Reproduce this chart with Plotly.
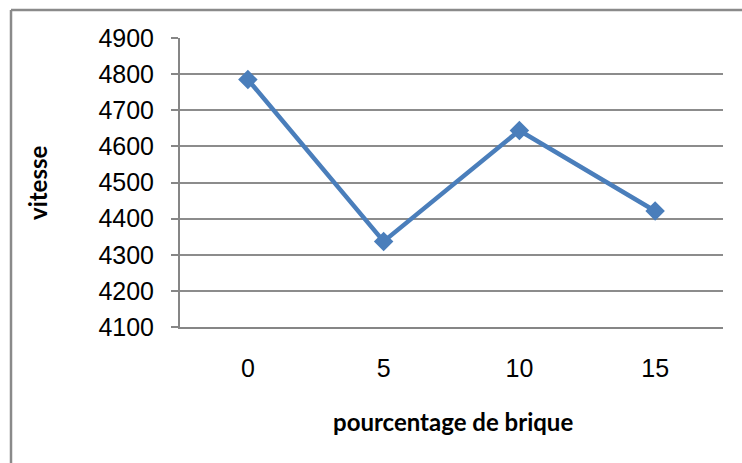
import plotly.graph_objects as go

# pourcentage de brique vs vitesse
pourcentage = ['0', '5', '10', '15']
vitesse = [4785, 4337, 4644, 4421]
y_ticks = [4100, 4200, 4300, 4400, 4500, 4600, 4700, 4800, 4900]

W, H = 742, 463
L, R, T, B = 180, 19, 38, 136
pw, ph = W - L - R, H - T - B


def px_x(x):
    return (x - L) / pw


def px_y(y):
    return (H - B - y) / ph


fig = go.Figure()
fig.add_trace(go.Scatter(
    x=pourcentage,
    y=vitesse,
    mode='lines+markers',
    line=dict(color='#4A7EBB', width=4.5),
    marker=dict(symbol='diamond', size=15, color='#4A7EBB'),
    cliponaxis=False,
))

fig.update_layout(
    width=W, height=H,
    margin=dict(l=L, r=R, t=T, b=B),
    paper_bgcolor='white',
    plot_bgcolor='white',
    showlegend=False,
    font=dict(family='Liberation Sans, Arial', color='black'),
    xaxis=dict(
        type='category',
        range=[-0.5, 3.5],
        showgrid=False,
        showline=True, linecolor='#868686', linewidth=2,
        ticks='',
        tickfont=dict(size=25),
        ticklabelstandoff=18,
    ),
    yaxis=dict(
        range=[4100, 4900],
        tickvals=y_ticks,
        showgrid=True, gridcolor='#8c8c8c', gridwidth=2,
        showline=True, linecolor='#868686', linewidth=2,
        ticks='outside', ticklen=7, tickcolor='#868686', tickwidth=2,
        tickfont=dict(size=25),
        ticklabelstandoff=12,
        zeroline=False,
    ),
    annotations=[
        dict(text='<b>vitesse</b>', xref='paper', yref='paper',
             x=px_x(37), y=px_y(183), xanchor='center', yanchor='middle',
             textangle=-90, showarrow=False,
             font=dict(family='Lato, Open Sans', size=24)),
        dict(text='<b>pourcentage de brique</b>', xref='paper', yref='paper',
             x=px_x(453), y=px_y(421), xanchor='center', yanchor='middle',
             showarrow=False,
             font=dict(family='Lato, Open Sans', size=24)),
    ],
    shapes=[
        dict(type='line', xref='paper', yref='paper',
             x0=px_x(11), x1=px_x(745), y0=px_y(10), y1=px_y(10),
             line=dict(color='#8a8a8a', width=2.5)),
        dict(type='line', xref='paper', yref='paper',
             x0=px_x(11), x1=px_x(11), y0=px_y(10), y1=px_y(466),
             line=dict(color='#8a8a8a', width=2.5)),
    ],
)

# browser default body margin shifts the figure by 8px
fig.write_html('out.html', config={'displayModeBar': False},
               post_script="document.body.style.margin='0';")
